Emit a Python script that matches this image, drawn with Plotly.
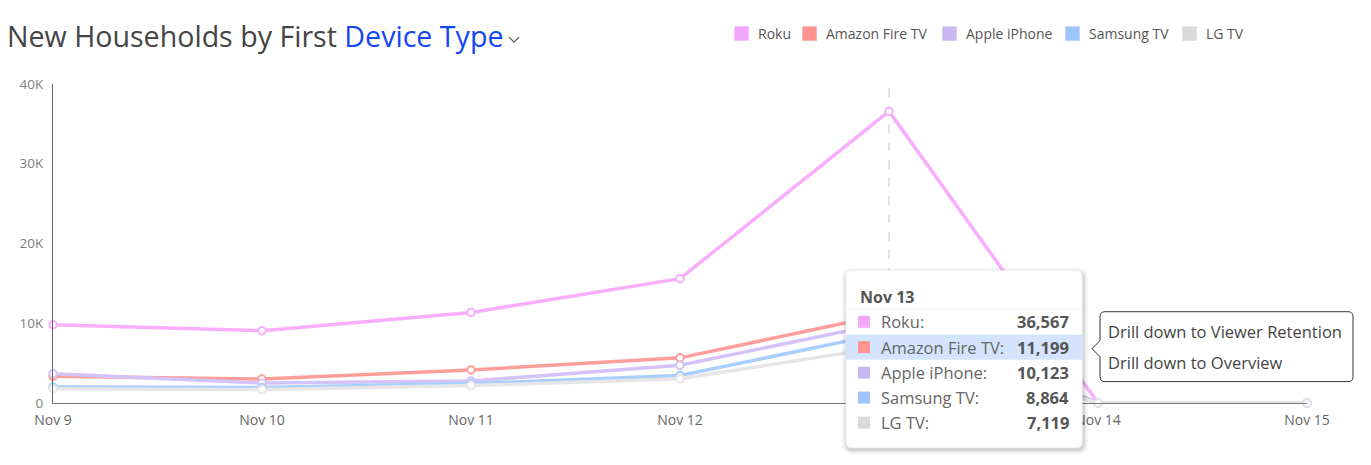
import plotly.graph_objects as go

# ---------------- data ----------------
dates = ["Nov 9", "Nov 10", "Nov 11", "Nov 12", "Nov 13", "Nov 14", "Nov 15"]
roku = [9820, 9060, 11360, 15590, 36567, 0, 0]
amazon_fire_tv = [3350, 3000, 4140, 5660, 11199, 0, 0]
apple_iphone = [3680, 2520, 2770, 4730, 10123, 0, 0]
samsung_tv = [2000, 1950, 2430, 3440, 8864, 0, 0]
lg_tv = [1800, 1680, 2180, 3030, 7119, 0, 0]

series_names = ["Roku", "Amazon Fire TV", "Apple iPhone", "Samsung TV", "LG TV"]
series_values = [roku, amazon_fire_tv, apple_iphone, samsung_tv, lg_tv]
legend_colors = ["#f2a6fc", "#ff938f", "#c8b8ef", "#9ec6fd", "#d9d9d9"]
line_colors = ["#f8aefd", "#fe9e9a", "#d3c3f8", "#a8cffd", "#e6e6e6"]

y_tickvals = [0, 10000, 20000, 30000, 40000]
y_ticktext = ["0", "10K", "20K", "30K", "40K"]

hover_index = 4          # tooltip shown for "Nov 13"
highlighted_series = 1   # Amazon Fire TV row highlighted

title_main = "New Households by First "
title_link = "Device Type"
drill_items = ["Drill down to Viewer Retention", "Drill down to Overview"]

# x tick labels: the hovered date's label is hidden under the tooltip
x_ticktext = [d if i != hover_index else "" for i, d in enumerate(dates)]

# ---------------- layout geometry (pixels) ----------------
W, H = 1371, 465
PL, PR = 53, 1307      # plot area left / right
PT, PB = 84, 403.4     # plot area top / bottom


def px(x):
    return (x - PL) / (PR - PL)


def py(y):
    return (PB - y) / (PB - PT)


def rrect(x0, y0, x1, y1, r):
    """rounded rectangle path in paper coords (pixel input)"""
    pts = [
        f"M {px(x0 + r)},{py(y0)}",
        f"L {px(x1 - r)},{py(y0)}",
        f"Q {px(x1)},{py(y0)} {px(x1)},{py(y0 + r)}",
        f"L {px(x1)},{py(y1 - r)}",
        f"Q {px(x1)},{py(y1)} {px(x1 - r)},{py(y1)}",
        f"L {px(x0 + r)},{py(y1)}",
        f"Q {px(x0)},{py(y1)} {px(x0)},{py(y1 - r)}",
        f"L {px(x0)},{py(y0 + r)}",
        f"Q {px(x0)},{py(y0)} {px(x0 + r)},{py(y0)}",
        "Z",
    ]
    return " ".join(pts)


FONT = "Open Sans"
fig = go.Figure()

for name, vals, lc in zip(series_names, series_values, line_colors):
    fig.add_trace(go.Scatter(
        x=dates, y=vals, name=name, mode="lines+markers",
        line=dict(color=lc, width=3.5),
        marker=dict(symbol="circle", size=7.5, color="white",
                    line=dict(color=lc, width=2)),
        cliponaxis=False, showlegend=False, hoverinfo="skip",
    ))

shapes = []
annotations = []

# crosshair at hovered date
shapes.append(dict(type="line", xref="x", yref="y", x0=hover_index, x1=hover_index,
                   y0=0, y1=40000, line=dict(color="#c8c8c8", width=1, dash="dash"),
                   layer="below"))

# title
annotations.append(dict(
    xref="paper", yref="paper", x=px(5), y=py(35), xanchor="left", yanchor="middle",
    text=f"{title_main}<span style='color:#1447f5'>{title_link}</span>",
    showarrow=False, font=dict(family=FONT, size=28.6, color="#454545")))
shapes.append(dict(type="path", xref="paper", yref="paper",
                   path=f"M {px(509)},{py(37)} L {px(514)},{py(42)} L {px(519)},{py(37)}",
                   line=dict(color="#555555", width=1.2)))

# legend (squares + labels)
sq_left = [734, 802, 942, 1065, 1182]
for i, name in enumerate(series_names):
    x0 = sq_left[i]
    shapes.append(dict(type="rect", xref="paper", yref="paper",
                       x0=px(x0), x1=px(x0 + 15), y0=py(26), y1=py(41),
                       fillcolor=legend_colors[i], line=dict(color="rgba(255,255,255,0.6)", width=1)))
    annotations.append(dict(xref="paper", yref="paper", x=px(x0 + 22), y=py(33.5),
                            xanchor="left", yanchor="middle", text=name, showarrow=False,
                            font=dict(family=FONT, size=14, color="#555555")))

# tooltip box with soft shadow
tx0, ty0, tx1, ty1 = 846, 271, 1082, 448
for off, op in [(5, 0.04), (3, 0.06), (1.5, 0.08)]:
    shapes.append(dict(type="path", xref="paper", yref="paper",
                       path=rrect(tx0 - off + 1, ty0 - off + 2, tx1 + off + 1, ty1 + off + 2, 6 + off),
                       fillcolor=f"rgba(0,0,0,{op})", line=dict(width=0)))
shapes.append(dict(type="path", xref="paper", yref="paper", path=rrect(tx0, ty0, tx1, ty1, 5),
                   fillcolor="white", line=dict(color="#f2f2f2", width=1)))
shapes.append(dict(type="line", xref="paper", yref="paper", x0=px(tx0), x1=px(tx1),
                   y0=py(309), y1=py(309), line=dict(color="#f1f1f6", width=1)))
annotations.append(dict(xref="paper", yref="paper", x=px(858), y=py(297), xanchor="left",
                        yanchor="middle", text=f"<b>{dates[hover_index]}</b>", showarrow=False,
                        font=dict(family=FONT, size=16, color="#555555")))
row_y = [322, 347.5, 373, 398, 423]
for i, name in enumerate(series_names):
    yc = row_y[i]
    if i == highlighted_series:
        shapes.append(dict(type="rect", xref="paper", yref="paper", x0=px(tx0), x1=px(tx1),
                           y0=py(yc - 12.5), y1=py(yc + 12.5), fillcolor="#d3e4fc",
                           line=dict(width=0)))
    shapes.append(dict(type="rect", xref="paper", yref="paper", x0=px(858), x1=px(870),
                       y0=py(yc - 6), y1=py(yc + 6), fillcolor=legend_colors[i],
                       line=dict(width=0)))
    annotations.append(dict(xref="paper", yref="paper", x=px(879), y=py(yc), xanchor="left",
                            yanchor="middle", text=f"{name}:", showarrow=False,
                            font=dict(family=FONT, size=16.5, color="#666666")))
    annotations.append(dict(xref="paper", yref="paper", x=px(1071), y=py(yc), xanchor="right",
                            yanchor="middle", text=f"<b>{series_values[i][hover_index]:,}</b>",
                            showarrow=False, font=dict(family=FONT, size=16.5, color="#555555")))

# drill-down popup
dx0, dy0, dx1, dy1, r = 1100, 312, 1353, 382, 5
ay = 349
drill_path = (
    f"M {px(dx0 + r)},{py(dy0)} L {px(dx1 - r)},{py(dy0)} "
    f"Q {px(dx1)},{py(dy0)} {px(dx1)},{py(dy0 + r)} L {px(dx1)},{py(dy1 - r)} "
    f"Q {px(dx1)},{py(dy1)} {px(dx1 - r)},{py(dy1)} L {px(dx0 + r)},{py(dy1)} "
    f"Q {px(dx0)},{py(dy1)} {px(dx0)},{py(dy1 - r)} L {px(dx0)},{py(ay + 8)} "
    f"L {px(dx0 - 8)},{py(ay)} L {px(dx0)},{py(ay - 8)} L {px(dx0)},{py(dy0 + r)} "
    f"Q {px(dx0)},{py(dy0)} {px(dx0 + r)},{py(dy0)} Z"
)
shapes.append(dict(type="path", xref="paper", yref="paper", path=drill_path,
                   fillcolor="white", line=dict(color="#333333", width=1)))
for j, item in enumerate(drill_items):
    annotations.append(dict(xref="paper", yref="paper", x=px(1106), y=py(332 + 31 * j),
                            xanchor="left", yanchor="middle", text=item, showarrow=False,
                            font=dict(family=FONT, size=16.5, color="#444444")))

fig.update_layout(
    width=W, height=H,
    margin=dict(l=PL, r=W - PR, t=PT, b=H - PB, pad=0),
    paper_bgcolor="white", plot_bgcolor="white",
    font=dict(family=FONT, color="#666666"),
    showlegend=False,
    xaxis=dict(type="category", range=[0, 6], showgrid=False, zeroline=False,
               showline=True, linecolor="#777777", linewidth=1,
               tickmode="array", tickvals=dates, ticktext=x_ticktext,
               ticks="", ticklabelstandoff=4,
               tickfont=dict(family=FONT, size=14, color="#666666"),
               fixedrange=True),
    yaxis=dict(range=[0, 40000], tickvals=y_tickvals, ticktext=y_ticktext,
               showgrid=False, zeroline=False, showline=True, linecolor="#666666",
               linewidth=1, ticks="", ticklabelstandoff=6,
               tickfont=dict(family=FONT, size=13.5, color="#808080"), fixedrange=True),
    shapes=shapes, annotations=annotations,
)

fig.write_html("out.html", config={"displayModeBar": False},
               post_script="document.body.style.margin='0';document.body.style.padding='0';")
